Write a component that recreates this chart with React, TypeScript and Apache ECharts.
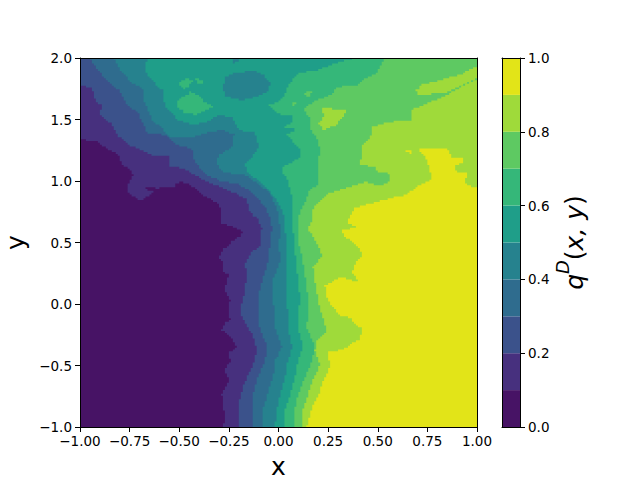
import React, { useEffect, useRef } from "react";
import * as echarts from "echarts";

type P = [number, number];

const xTicks = [-1, -0.75, -0.5, -0.25, 0, 0.25, 0.5, 0.75, 1];
const yTicks = [-1, -0.5, 0, 0.5, 1, 1.5, 2];
const barTicks = [0, 0.2, 0.4, 0.6, 0.8, 1];
const levels = [0, 0.1, 0.2, 0.3, 0.4, 0.5, 0.6, 0.7, 0.8, 0.9, 1];
const bandColors = ["#471365", "#47307e", "#3b528b", "#2f6c8e", "#26828e", "#1f9e89", "#35b779", "#5ec962", "#9fda3a", "#e2e418"];

// the source field's sampling steps, which give the contours their stepped edges
const cellX = 0.01;
const cellY = 0.015;

const full: P[] = [[-1, -1], [1, -1], [1, 2], [-1, 2]];

const q01: P[] = [[-1, 1.339], [-0.924, 1.32], [-0.857, 1.257], [-0.807, 1.211], [-0.79, 1.13], [-0.748, 1.089], [-0.731, 1.041], [-0.757, 0.967], [-0.765, 0.913], [-0.698, 0.84], [-0.63, 0.913], [-0.681, 0.954], [-0.614, 0.94], [-0.521, 0.959], [-0.505, 1.0], [-0.446, 0.967], [-0.395, 0.9], [-0.303, 0.805], [-0.286, 0.737], [-0.295, 0.656], [-0.236, 0.629], [-0.177, 0.588], [-0.19, 0.55], [-0.219, 0.519], [-0.27, 0.451], [-0.303, 0.37], [-0.278, 0.343], [-0.278, 0.26], [-0.253, 0.234], [-0.27, 0.112], [-0.244, 0.018], [-0.253, -0.077], [-0.244, -0.131], [-0.27, -0.159], [-0.286, -0.213], [-0.236, -0.28], [-0.21, -0.362], [-0.25, -0.389], [-0.244, -0.47], [-0.27, -0.551], [-0.25, -0.627], [-0.286, -0.741], [-0.27, -0.931], [-0.278, -1], [1, -1], [1, 2], [-1, 2]];

const q02: P[] = [[-1, 1.78], [-0.941, 1.753], [-0.924, 1.659], [-0.891, 1.604], [-0.899, 1.537], [-0.84, 1.455], [-0.807, 1.36], [-0.757, 1.293], [-0.698, 1.252], [-0.622, 1.198], [-0.555, 1.198], [-0.547, 1.117], [-0.488, 1.103], [-0.437, 1.062], [-0.37, 0.995], [-0.303, 0.954], [-0.219, 0.9], [-0.16, 0.846], [-0.143, 0.737], [-0.102, 0.683], [-0.085, 0.602], [-0.088, 0.56], [-0.085, 0.478], [-0.135, 0.424], [-0.168, 0.316], [-0.16, 0.234], [-0.168, 0.112], [-0.186, -0.009], [-0.194, -0.091], [-0.152, -0.199], [-0.118, -0.308], [-0.11, -0.389], [-0.135, -0.524], [-0.169, -0.633], [-0.194, -0.768], [-0.202, -1], [1, -1], [1, 2], [-1, 2]];

const q03: P[] = [[-0.958, 2], [-0.908, 1.902], [-0.874, 1.821], [-0.807, 1.74], [-0.765, 1.618], [-0.706, 1.55], [-0.681, 1.455], [-0.664, 1.388], [-0.572, 1.374], [-0.521, 1.293], [-0.437, 1.266], [-0.429, 1.171], [-0.37, 1.049], [-0.286, 0.995], [-0.209, 0.976], [-0.144, 0.911], [-0.078, 0.805], [-0.043, 0.699], [-0.033, 0.602], [-0.043, 0.48], [-0.053, 0.333], [-0.078, 0.195], [-0.103, 0.057], [-0.103, -0.09], [-0.093, -0.211], [-0.058, -0.358], [-0.068, -0.463], [-0.103, -0.602], [-0.128, -0.74], [-0.133, -0.87], [-0.133, -1], [1, -1], [1, 2]];

const q04: P[] = [[-0.834, 2], [-0.798, 1.902], [-0.738, 1.797], [-0.683, 1.74], [-0.673, 1.618], [-0.632, 1.48], [-0.547, 1.358], [-0.446, 1.35], [-0.355, 1.398], [-0.285, 1.415], [-0.224, 1.374], [-0.234, 1.276], [-0.305, 1.195], [-0.31, 1.13], [-0.285, 1.073], [-0.179, 1.049], [-0.108, 0.984], [-0.043, 0.886], [-0.002, 0.748], [0.008, 0.602], [0.003, 0.48], [0.008, 0.333], [-0.028, 0.195], [-0.028, 0.057], [-0.018, -0.211], [0.018, -0.358], [-0.018, -0.463], [-0.028, -0.602], [-0.058, -0.74], [-0.078, -0.87], [-0.083, -1], [1, -1], [1, 2]];

const q05: P[] = [[-0.662, 2], [-0.673, 1.878], [-0.582, 1.724], [-0.572, 1.593], [-0.506, 1.496], [-0.436, 1.455], [-0.37, 1.48], [-0.305, 1.537], [-0.234, 1.512], [-0.204, 1.415], [-0.118, 1.39], [-0.103, 1.293], [-0.108, 1.228], [-0.169, 1.13], [-0.159, 1.065], [-0.078, 0.967], [-0.018, 0.862], [0.023, 0.748], [0.038, 0.52], [0.043, 0.333], [0.043, 0.057], [0.048, -0.211], [0.068, -0.358], [0.048, -0.463], [0.033, -0.602], [0.008, -0.74], [-0.008, -0.87], [-0.018, -1], [1, -1], [1, 2]];

const hole04a: P[] = [[-0.27, 1.846], [-0.229, 1.878], [-0.179, 1.886], [-0.128, 1.902], [-0.083, 1.862], [-0.043, 1.797], [-0.053, 1.724], [-0.108, 1.683], [-0.179, 1.659], [-0.219, 1.675], [-0.27, 1.683], [-0.28, 1.764]];
const hole04b: P[] = [[-0.229, 2], [-0.194, 2], [-0.2, 1.965], [-0.225, 1.96]];

const q06: P[] = [[0.396, 2], [0.295, 1.959], [0.199, 1.902], [0.108, 1.878], [0.073, 1.821], [0.048, 1.764], [0.023, 1.675], [-0.028, 1.618], [-0.053, 1.618], [-0.033, 1.577], [0.008, 1.537], [0.068, 1.537], [0.073, 1.472], [0.023, 1.439], [0.093, 1.415], [0.043, 1.374], [0.073, 1.309], [0.108, 1.252], [0.108, 1.187], [0.023, 1.106], [0.023, 1.049], [0.048, 0.992], [0.068, 0.87], [0.073, 0.764], [0.073, 0.602], [0.088, 0.333], [0.108, 0.057], [0.098, -0.211], [0.123, -0.358], [0.098, -0.463], [0.083, -0.602], [0.058, -0.74], [0.033, -0.87], [0.028, -1], [1, -1], [1, 2]];

const isle06a: P[] = [[-0.506, 1.659], [-0.47, 1.699], [-0.446, 1.724], [-0.406, 1.699], [-0.37, 1.634], [-0.335, 1.602], [-0.36, 1.577], [-0.406, 1.537], [-0.47, 1.55], [-0.506, 1.61]];
const isle06b: P[] = [[-0.506, 1.797], [-0.47, 1.837], [-0.43, 1.805], [-0.47, 1.74]];
const isle06c: P[] = [[-0.42, 1.84], [-0.395, 1.82], [-0.36, 1.8], [-0.4, 1.79]];

const q07: P[] = [[0.537, 2], [0.501, 1.902], [0.496, 1.878], [0.426, 1.821], [0.401, 1.78], [0.3, 1.764], [0.27, 1.699], [0.199, 1.659], [0.123, 1.577], [0.159, 1.512], [0.159, 1.415], [0.199, 1.333], [0.209, 1.228], [0.199, 1.13], [0.204, 0.967], [0.159, 0.927], [0.134, 0.821], [0.098, 0.699], [0.098, 0.52], [0.123, 0.333], [0.149, 0.057], [0.144, -0.211], [0.184, -0.358], [0.169, -0.463], [0.134, -0.602], [0.098, -0.74], [0.083, -0.87], [0.078, -1], [1, -1], [1, 2]];

const isle07a: P[] = [[0.13, 1.72], [0.145, 1.74], [0.165, 1.72], [0.16, 1.685], [0.14, 1.68]];
const isle07b: P[] = [[0.06, 1.63], [0.075, 1.65], [0.09, 1.63], [0.075, 1.605]];

const q08: P[] = [[1, 1.821], [0.914, 1.756], [0.854, 1.699], [0.773, 1.642], [0.672, 1.577], [0.672, 1.496], [0.572, 1.48], [0.476, 1.439], [0.461, 1.333], [0.426, 1.293], [0.411, 1.13], [0.486, 1.114], [0.496, 1.073], [0.552, 1.073], [0.562, 0.992], [0.511, 0.959], [0.451, 0.992], [0.386, 0.967], [0.259, 0.902], [0.184, 0.789], [0.169, 0.74], [0.174, 0.699], [0.149, 0.602], [0.184, 0.52], [0.219, 0.382], [0.174, 0.293], [0.199, 0.016], [0.244, -0.228], [0.194, -0.309], [0.184, -0.39], [0.209, -0.496], [0.199, -0.553], [0.174, -0.618], [0.149, -0.74], [0.123, -0.87], [0.118, -1], [1, -1]];

const spike08: P[] = [[1, 1.927], [0.925, 1.87], [0.824, 1.821], [0.723, 1.78], [0.688, 1.724], [0.713, 1.699], [0.854, 1.724], [0.93, 1.79], [1, 1.84]];
const isle08: P[] = [[0.219, 1.593], [0.345, 1.577], [0.32, 1.512], [0.295, 1.455], [0.229, 1.415], [0.204, 1.48], [0.229, 1.537]];

const q09: P[] = [[1, 0.943], [0.94, 0.984], [0.95, 1.065], [0.899, 1.065], [0.889, 1.13], [0.925, 1.146], [0.93, 1.195], [0.879, 1.195], [0.854, 1.268], [0.703, 1.268], [0.753, 1.146], [0.773, 1.008], [0.723, 0.967], [0.637, 0.886], [0.536, 0.846], [0.386, 0.78], [0.345, 0.667], [0.386, 0.618], [0.31, 0.602], [0.325, 0.561], [0.396, 0.463], [0.421, 0.398], [0.386, 0.317], [0.371, 0.252], [0.396, 0.179], [0.325, 0.219], [0.285, 0.195], [0.234, 0.138], [0.25, 0.016], [0.3, -0.089], [0.36, -0.114], [0.386, -0.171], [0.421, -0.196], [0.411, -0.293], [0.345, -0.35], [0.32, -0.374], [0.25, -0.39], [0.259, -0.52], [0.234, -0.602], [0.199, -0.764], [0.169, -0.846], [0.144, -1], [1, -1]];
const isle09: P[] = [[0.64, 1.255], [0.67, 1.255], [0.665, 1.225], [0.645, 1.235]];

const layers: { band: number; points: P[] }[] = [
  { band: 0, points: full },
  { band: 1, points: q01 },
  { band: 2, points: q02 },
  { band: 3, points: q03 },
  { band: 4, points: q04 },
  { band: 5, points: q05 },
  { band: 4, points: hole04a },
  { band: 4, points: hole04b },
  { band: 6, points: q06 },
  { band: 6, points: isle06a },
  { band: 6, points: isle06b },
  { band: 6, points: isle06c },
  { band: 7, points: q07 },
  { band: 7, points: isle07a },
  { band: 7, points: isle07b },
  { band: 8, points: q08 },
  { band: 8, points: spike08 },
  { band: 8, points: isle08 },
  { band: 9, points: q09 },
  { band: 9, points: isle09 },
];

// Walk an outline along the sampling cells, so that its edges step as the original's do.
function stepped(points: P[]): P[] {
  const snapX = (v: number) => Math.round((v + 1) / cellX) * cellX - 1;
  const snapY = (v: number) => Math.round((v + 1) / cellY) * cellY - 1;
  const out: P[] = [];
  let lx = snapX(points[0][0]);
  let ly = snapY(points[0][1]);
  out.push([lx, ly]);
  const closed = [...points, points[0]];
  for (let i = 0; i + 1 < closed.length; i++) {
    const [ax, ay] = closed[i];
    const [bx, by] = closed[i + 1];
    const n = Math.max(1, Math.ceil(Math.max(Math.abs(bx - ax) / cellX, Math.abs(by - ay) / cellY)));
    for (let k = 1; k <= n; k++) {
      const sx = snapX(ax + ((bx - ax) * k) / n);
      const sy = snapY(ay + ((by - ay) * k) / n);
      if (sx === lx && sy === ly) continue;
      if (sx !== lx && sy !== ly) out.push([sx, ly]);
      out.push([sx, sy]);
      lx = sx;
      ly = sy;
    }
  }
  return out;
}

const FONT = "DejaVu Sans";
const minus = (s: string) => s.replace("-", "\u2212");
const spine = { show: true, onZero: false, lineStyle: { color: "#000", width: 1 } };
const tick = { show: true, length: 5, lineStyle: { color: "#000", width: 1 } };
const lab = { color: "#000", fontFamily: FONT, fontSize: 13.5 };

export default function App() {
  const ref = useRef<HTMLDivElement>(null);
  useEffect(() => {
    document.body.style.margin = "0";
    const chart = echarts.init(ref.current!, null, { renderer: "svg" });
    const hidden = {
      axisTick: { show: false },
      axisLabel: { show: false },
      splitLine: { show: false },
      axisLine: spine,
      z: 10,
    };
    chart.setOption({
      animation: false,
      backgroundColor: "#fff",
      grid: [
        { left: 80, top: 58, width: 397, height: 369, outerBoundsMode: "none" },
        { left: 502, top: 58, width: 18, height: 369, outerBoundsMode: "none" },
      ],
      xAxis: [
        {
          gridIndex: 0, type: "value", position: "bottom", min: xTicks[0], max: xTicks[xTicks.length - 1], interval: 0.25,
          axisLine: spine, axisTick: tick, splitLine: { show: false }, z: 10,
          axisLabel: { ...lab, margin: 7, formatter: (v: number) => minus(v.toFixed(2)) },
          name: "x", nameLocation: "middle", nameGap: 27,
          nameTextStyle: { color: "#000", fontFamily: FONT, fontSize: 25 },
        },
        { gridIndex: 0, type: "value", position: "top", min: -1, max: 1, ...hidden },
        { gridIndex: 1, type: "value", position: "bottom", min: 0, max: 1, ...hidden },
        { gridIndex: 1, type: "value", position: "top", min: 0, max: 1, ...hidden },
      ],
      yAxis: [
        {
          gridIndex: 0, type: "value", position: "left", min: yTicks[0], max: yTicks[yTicks.length - 1], interval: 0.5,
          axisLine: spine, axisTick: tick, splitLine: { show: false }, z: 10,
          axisLabel: { ...lab, margin: 8, formatter: (v: number) => minus(v.toFixed(1)) },
          name: "y", nameLocation: "middle", nameGap: 52, nameRotate: 90,
          nameTextStyle: { color: "#000", fontFamily: FONT, fontSize: 25 },
        },
        { gridIndex: 0, type: "value", position: "right", min: -1, max: 2, ...hidden },
        { gridIndex: 1, type: "value", position: "left", min: 0, max: 1, ...hidden },
        {
          gridIndex: 1, type: "value", position: "right", min: barTicks[0], max: barTicks[barTicks.length - 1], interval: 0.2,
          axisLine: spine, axisTick: tick, splitLine: { show: false }, z: 10,
          axisLabel: { ...lab, margin: 8, formatter: (v: number) => v.toFixed(1) },
          name: "{q|q}{d|D}{t|(}{q|x, y}{t|)}", nameLocation: "middle", nameGap: 31, nameRotate: 90,
          nameTextStyle: {
            color: "#000",
            rich: {
              q: { fontFamily: FONT, fontStyle: "italic", fontSize: 25, color: "#000", verticalAlign: "bottom", lineHeight: 34 },
              d: { fontFamily: FONT, fontStyle: "italic", fontSize: 18, color: "#000", verticalAlign: "top", lineHeight: 34 },
              t: { fontFamily: FONT, fontSize: 25, color: "#000", verticalAlign: "bottom", lineHeight: 34 },
            },
          },
        },
      ],
      series: [
        {
          type: "custom",
          coordinateSystem: "cartesian2d",
          xAxisIndex: 0,
          yAxisIndex: 0,
          silent: true,
          data: layers.map((_, i) => [i]),
          renderItem: (params: any, api: any) => {
            const l = layers[params.dataIndex];
            return {
              type: "polygon",
              shape: { points: stepped(l.points).map((p) => api.coord(p)) },
              style: { fill: bandColors[l.band] },
            };
          },
        },
        {
          type: "custom",
          coordinateSystem: "cartesian2d",
          xAxisIndex: 2,
          yAxisIndex: 3,
          silent: true,
          data: bandColors.map((_, i) => [i]),
          renderItem: (params: any, api: any) => {
            const i = params.dataIndex;
            const a = api.coord([0, levels[i]]);
            const b = api.coord([1, levels[i + 1]]);
            return {
              type: "rect",
              shape: { x: a[0], y: b[1], width: b[0] - a[0], height: a[1] - b[1] },
              style: { fill: bandColors[i] },
            };
          },
        },
      ],
    });
    return () => chart.dispose();
  }, []);
  return <div ref={ref} style={{ width: 640, height: 480, background: "#fff" }} />;
}
